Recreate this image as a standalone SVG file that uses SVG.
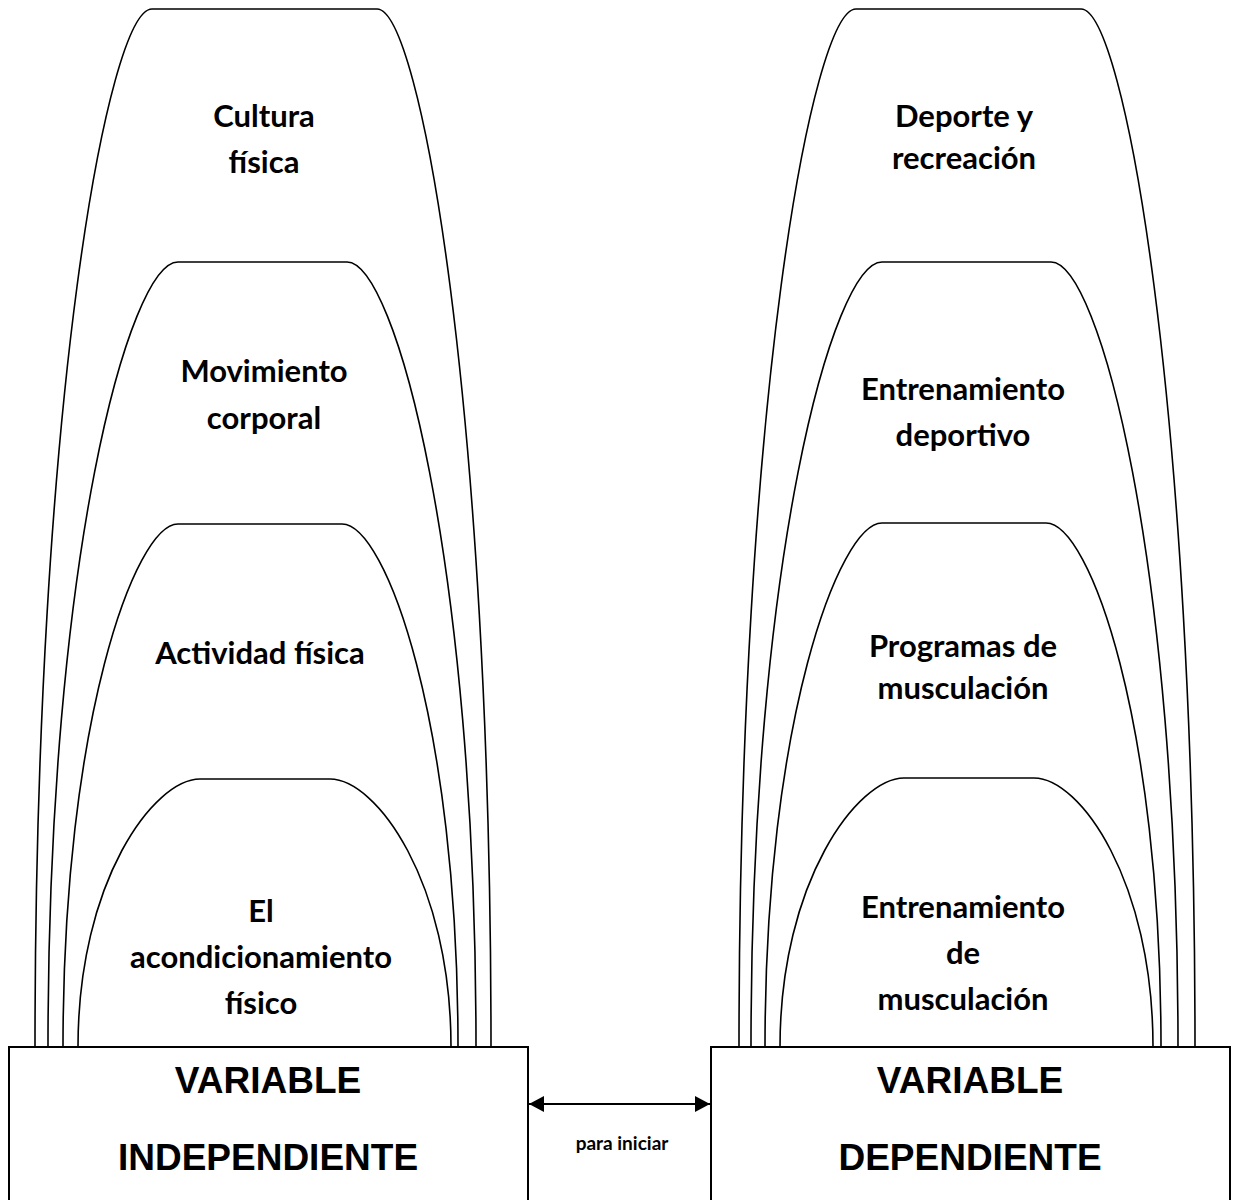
<svg xmlns="http://www.w3.org/2000/svg" width="1240" height="1200" viewBox="0 0 1240 1200">
<style>
.arch{fill:none;stroke:#000;stroke-width:1.6}
.box{fill:#fff;stroke:#000;stroke-width:2}
.lbl{font-family:Lato,"Open Sans",sans-serif;font-weight:bold;font-size:31px;fill:#000;text-anchor:middle}
.big{font-family:"Liberation Sans",Arial,sans-serif;font-weight:bold;font-size:37px;fill:#000;text-anchor:middle}
.small{font-family:Lato,"Open Sans",sans-serif;font-weight:bold;font-size:19px;fill:#000;text-anchor:middle}
</style>
<defs>
<marker id="ah" markerUnits="userSpaceOnUse" markerWidth="16" markerHeight="16" refX="15" refY="8" orient="auto-start-reverse">
<path d="M0,0 L15,8 L0,16 z" fill="#000"/>
</marker>
</defs>
<rect width="1240" height="1200" fill="#fff"/>
<g id="left-arches">
<g id="cultura-fisica">
<path class="arch" d="M35,1047 C35,403 108,9 152,9 H377 C420,9 491,403 491,1047"/>
<text class="lbl" x="264" y="127">Cultura</text>
<text class="lbl" x="264" y="173">física</text>
</g>
<g id="movimiento-corporal">
<path class="arch" d="M48,1047 C48,560 129,262 178,262 H347 C395,262 476,560 476,1047"/>
<text class="lbl" x="264" y="382">Movimiento</text>
<text class="lbl" x="264" y="429">corporal</text>
</g>
<g id="actividad-fisica">
<path class="arch" d="M63,1047 C63,723 135,524 178,524 H342 C386,524 458,723 458,1047"/>
<text class="lbl" x="260" y="664">Actividad física</text>
</g>
<g id="acondicionamiento">
<path class="arch" d="M78,1047 C78,881 154,779 200,779 H330 C376,779 451,881 451,1047"/>
<text class="lbl" x="261" y="922">El</text>
<text class="lbl" x="261" y="968">acondicionamiento</text>
<text class="lbl" x="261" y="1014">físico</text>
</g>
</g>
<g id="right-arches">
<g id="deporte-recreacion">
<path class="arch" d="M739,1047 C739,403 812,9 856,9 H1081 C1124,9 1195,403 1195,1047"/>
<text class="lbl" x="964" y="127">Deporte y</text>
<text class="lbl" x="964" y="169">recreación</text>
</g>
<g id="entrenamiento-deportivo">
<path class="arch" d="M751,1047 C751,560 833,262 882,262 H1051 C1099,262 1178,560 1178,1047"/>
<text class="lbl" x="963" y="400">Entrenamiento</text>
<text class="lbl" x="963" y="446">deportivo</text>
</g>
<g id="programas-musculacion">
<path class="arch" d="M765,1047 C765,723 839,523 882,523 H1046 C1090,523 1161,723 1161,1047"/>
<text class="lbl" x="963" y="657">Programas de</text>
<text class="lbl" x="963" y="699">musculación</text>
</g>
<g id="entrenamiento-musculacion">
<path class="arch" d="M780,1047 C780,881 858,778 904,778 H1034 C1080,778 1153,881 1153,1047"/>
<text class="lbl" x="963" y="918">Entrenamiento</text>
<text class="lbl" x="963" y="964">de</text>
<text class="lbl" x="963" y="1010">musculación</text>
</g>
</g>
<g id="variable-independiente">
<rect class="box" x="9" y="1047" width="519" height="170"/>
<text class="big" x="268" y="1093">VARIABLE</text>
<text class="big" x="268" y="1170">INDEPENDIENTE</text>
</g>
<g id="variable-dependiente">
<rect class="box" x="711" y="1047" width="519" height="170"/>
<text class="big" x="970" y="1093">VARIABLE</text>
<text class="big" x="970" y="1170">DEPENDIENTE</text>
</g>
<g id="connectors">
<line x1="529" y1="1104" x2="710" y2="1104" stroke="#000" stroke-width="2" marker-start="url(#ah)" marker-end="url(#ah)"/>
<text class="small" x="622" y="1150">para iniciar</text>
</g>
</svg>
